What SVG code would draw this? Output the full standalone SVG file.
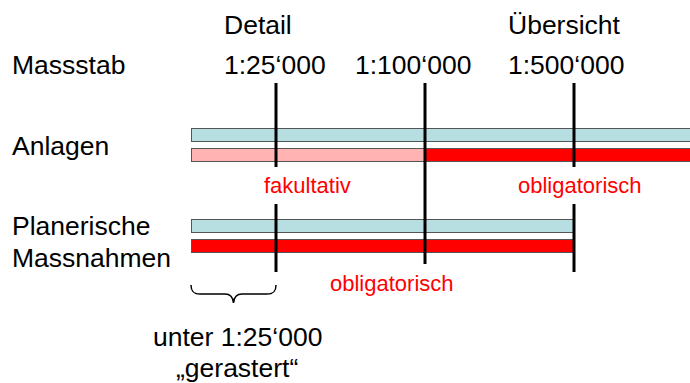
<svg xmlns="http://www.w3.org/2000/svg" width="690" height="383" viewBox="0 0 690 383">
  <style>
    text { font-family: "Liberation Sans", Arial, sans-serif; }
    .lbl { font-size: 26.5px; fill: #000; }
    .red { font-size: 22px; fill: #ff0000; }
    .bar { stroke: #555; stroke-width: 1; }
    .cyan { fill: #b7dee0; }
    .pink { fill: #ffb3b3; }
    .full { fill: #ff0000; }
    .scale { stroke: #000; stroke-width: 3; fill: none; }
  </style>

  <!-- scale headings -->
  <g id="headings">
    <text class="lbl" x="224" y="34">Detail</text>
    <text class="lbl" x="508" y="34">Übersicht</text>
    <text class="lbl" x="12" y="74">Massstab</text>
    <text class="lbl" x="224" y="74">1:25‘000</text>
    <text class="lbl" x="355" y="74">1:100‘000</text>
    <text class="lbl" x="508" y="74">1:500‘000</text>
  </g>

  <!-- row: Anlagen -->
  <g id="anlagen">
    <text class="lbl" x="12" y="155">Anlagen</text>
    <rect class="bar cyan" x="191.5" y="128.5" width="510" height="13"/>
    <rect class="bar pink" x="191.5" y="148.5" width="234" height="13"/>
    <rect class="bar full" x="425.5" y="148.5" width="276" height="13"/>
    <text class="red" x="264" y="193">fakultativ</text>
    <text class="red" x="518" y="193">obligatorisch</text>
  </g>

  <!-- row: Planerische Massnahmen -->
  <g id="massnahmen">
    <text class="lbl" x="12" y="235">Planerische</text>
    <text class="lbl" x="12" y="267">Massnahmen</text>
    <rect class="bar cyan" x="191.5" y="219.5" width="383" height="13"/>
    <rect class="bar full" x="191.5" y="239.5" width="383" height="13"/>
    <text class="red" x="330" y="291">obligatorisch</text>
  </g>

  <!-- scale markers and brace -->
  <g id="connectors">
    <path class="scale" d="M276 83V167M276 204V272"/>
    <path class="scale" d="M425 83V264"/>
    <path class="scale" d="M574 83V167M574 204V272"/>
    <path d="M191 285C191 291 193 294 200 294H225C230 294 233 297 233.5 303C234 297 237 294 242 294H267C274 294 276 291 276 285" fill="none" stroke="#000" stroke-width="1.5"/>
  </g>

  <!-- note under the brace -->
  <g id="note">
    <text class="lbl" x="153" y="346">unter 1:25‘000</text>
    <text class="lbl" x="176" y="377">„gerastert“</text>
  </g>
</svg>
